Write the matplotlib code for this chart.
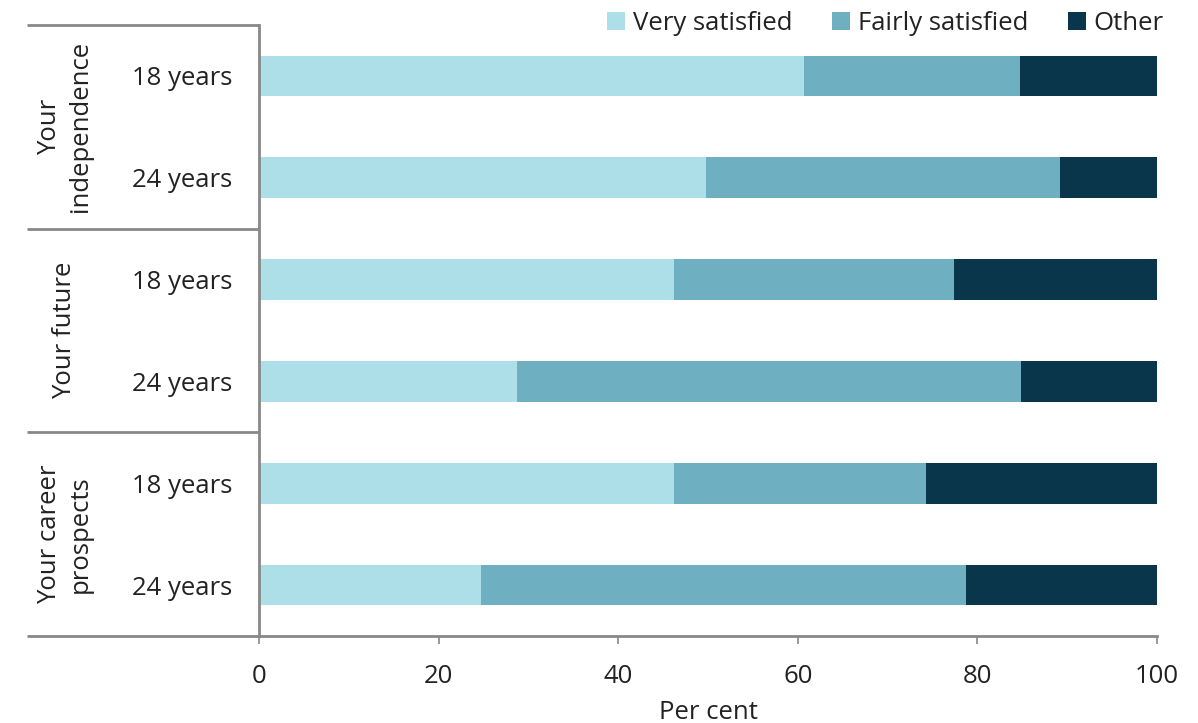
import matplotlib
matplotlib.use("Agg")
import matplotlib.pyplot as plt
from matplotlib.patches import Patch
import numpy as np

plt.rcParams['font.family'] = ['Open Sans', 'DejaVu Sans']

groups = ["Your\nindependence", "Your future", "Your career\nprospects"]
ages = ["18 years", "24 years", "18 years", "24 years", "18 years", "24 years"]
very = [60.7, 49.8, 46.2, 28.7, 46.2, 24.7]
fairly = [24.0, 39.4, 31.2, 56.2, 28.1, 54.0]
other = [15.3, 10.8, 22.6, 15.1, 25.7, 21.3]
series_names = ["Very satisfied", "Fairly satisfied", "Other"]
colors = ["#ADDFE8", "#6EB0C1", "#0A364C"]

FS = 18.5
W, H = 1198, 723
fig = plt.figure(figsize=(W / 100, H / 100), dpi=100)
ax = fig.add_axes([259 / W, 1 - 636 / H, (1157 - 259) / W, (636 - 25) / H])

y = np.arange(len(ages)) + 0.5
left = np.zeros(len(ages))
for vals, name, c in zip([very, fairly, other], series_names, colors):
    ax.barh(y, vals, left=left, height=0.4, color=c, label=name, edgecolor='none')
    left += np.array(vals)

ax.set_xlim(0, 100)
ax.set_ylim(6, 0)
ax.set_xticks([0, 20, 40, 60, 80, 100])
ax.tick_params(axis='x', labelsize=FS, colors='#222222', length=6, width=1.2, color='#888888', pad=14)
ax.set_yticks([])
for s in ['top', 'right']:
    ax.spines[s].set_visible(False)
for s in ['left', 'bottom']:
    ax.spines[s].set_color('#888888')
    ax.spines[s].set_linewidth(2)
ax.set_xlabel("Per cent", fontsize=FS, color='#222222', labelpad=8)

# age labels
for yi, lab in zip(y, ages):
    ax.text(-3, yi, lab, ha='right', va='center_baseline', fontsize=FS, color='#222222')

# separators
x_left = (27 - 259) / (1157 - 259) * 100
for yy in [0, 2, 4, 6]:
    ax.plot([x_left, 0], [yy, yy], color='#888888', lw=2, clip_on=False, solid_capstyle='butt')

# group labels
gx = (65 - 259) / (1157 - 259) * 100
for i, g in enumerate(groups):
    ax.text(gx, 2 * i + 1, g, rotation=90, ha='center', va='center', fontsize=FS,
            color='#222222', linespacing=1.3, multialignment='center')

handles = [Patch(facecolor=c, edgecolor='none') for c in colors]
fig.legend(handles, series_names, loc='upper right', bbox_to_anchor=(1187 / W, 1 + 12 / H), ncol=3,
           frameon=False, fontsize=FS, handlelength=0.7, handleheight=0.7, handletextpad=0.3,
           columnspacing=1.55, labelcolor='#222222')

fig.savefig("out.png", dpi=100)
